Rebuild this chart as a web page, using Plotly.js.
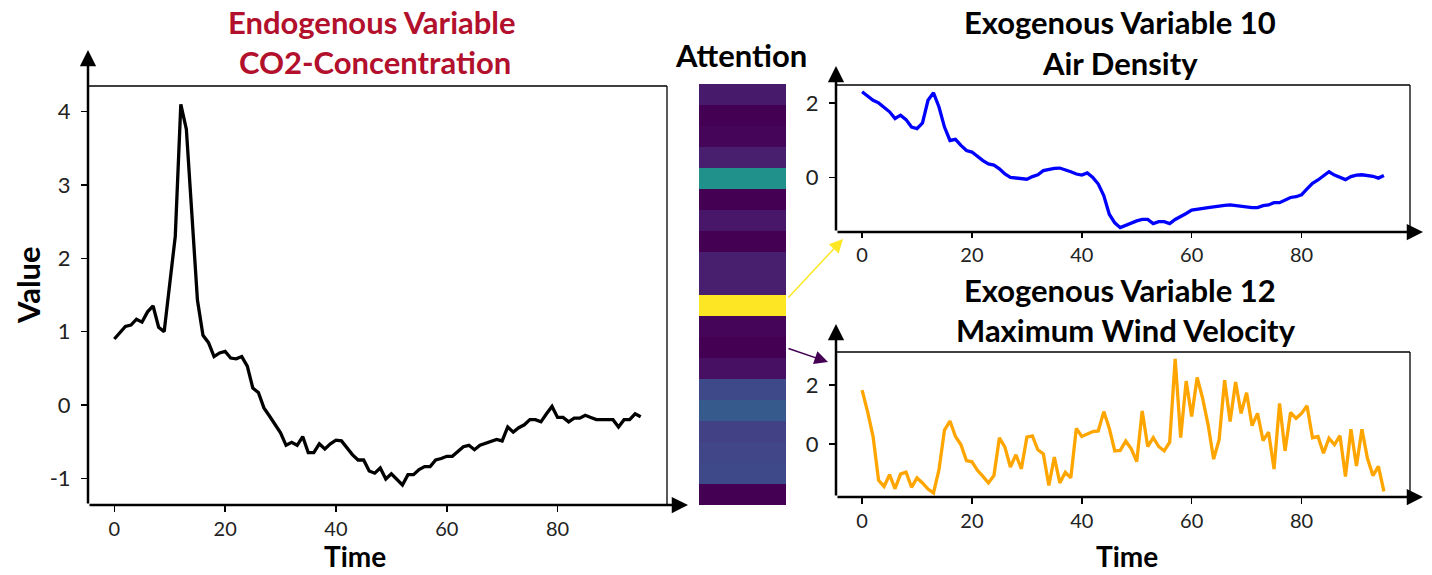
<!DOCTYPE html>
<html>
<head>
<meta charset="utf-8">
<script src="https://cdn.plot.ly/plotly-3.0.1.min.js"></script>
<style>html,body{margin:0;padding:0;background:#fff;}#chart{width:1432px;height:575px;}</style>
</head>
<body>
<div id="chart"></div>
<script>
// ---- data ----
const time = [0,1,2,3,4,5,6,7,8,9,10,11,12,13,14,15,16,17,18,19,20,21,22,23,24,25,26,27,28,29,30,31,32,33,34,35,36,37,38,39,40,41,42,43,44,45,46,47,48,49,50,51,52,53,54,55,56,57,58,59,60,61,62,63,64,65,66,67,68,69,70,71,72,73,74,75,76,77,78,79,80,81,82,83,84,85,86,87,88,89,90,91,92,93,94,95];

const co2Concentration = [0.90,0.98,1.07,1.09,1.17,1.13,1.27,1.35,1.06,1.00,1.65,2.30,4.10,3.76,2.60,1.43,0.95,0.85,0.66,0.71,
  0.73,0.64,0.63,0.66,0.53,0.23,0.17,-0.04,-0.15,-0.27,-0.38,-0.55,-0.51,-0.55,-0.43,-0.65,-0.65,-0.53,-0.60,-0.53,
  -0.48,-0.49,-0.58,-0.68,-0.75,-0.75,-0.90,-0.93,-0.86,-1.01,-0.94,-1.01,-1.09,-0.95,-0.95,-0.88,-0.84,-0.84,-0.75,-0.73,
  -0.70,-0.70,-0.63,-0.57,-0.55,-0.61,-0.55,-0.52,-0.49,-0.47,-0.49,-0.30,-0.37,-0.31,-0.27,-0.20,-0.20,-0.23,-0.12,-0.02,
  -0.17,-0.17,-0.23,-0.18,-0.18,-0.14,-0.17,-0.20,-0.20,-0.20,-0.20,-0.30,-0.20,-0.20,-0.12,-0.16];

const airDensity = [2.30,2.18,2.07,2.00,1.88,1.76,1.58,1.67,1.55,1.35,1.31,1.46,2.07,2.27,1.89,1.35,0.99,1.02,0.86,0.72,
  0.68,0.56,0.45,0.36,0.33,0.23,0.09,0.00,-0.02,-0.05,-0.05,0.02,0.07,0.18,0.22,0.24,0.25,0.21,0.15,0.09,
  0.06,0.12,0.00,-0.18,-0.49,-0.99,-1.22,-1.35,-1.29,-1.22,-1.17,-1.13,-1.13,-1.24,-1.19,-1.19,-1.24,-1.13,-1.06,-0.97,
  -0.88,-0.85,-0.84,-0.81,-0.79,-0.76,-0.75,-0.74,-0.76,-0.79,-0.81,-0.81,-0.81,-0.76,-0.74,-0.68,-0.68,-0.60,-0.54,-0.52,
  -0.47,-0.31,-0.16,-0.07,0.05,0.15,0.06,0.00,-0.06,0.02,0.06,0.07,0.05,0.03,-0.02,0.05];

const maxWindVelocity = [1.83,1.10,0.25,-1.24,-1.45,-1.05,-1.53,-1.03,-0.96,-1.48,-1.16,-1.33,-1.54,-1.67,-0.88,0.47,0.78,0.25,-0.03,-0.57,
  -0.61,-0.90,-1.11,-1.33,-1.08,0.21,-0.11,-0.79,-0.37,-0.85,0.23,0.27,-0.20,-0.34,-1.42,-0.45,-1.33,-0.97,-1.16,0.53,
  0.25,0.33,0.42,0.44,1.10,0.53,-0.24,-0.22,0.10,-0.17,-0.60,1.12,-0.09,0.21,-0.09,-0.24,0.06,2.90,0.21,2.14,
  0.93,2.26,1.55,0.64,-0.52,0.14,2.17,0.76,2.11,1.04,1.74,0.62,1.04,0.11,0.40,-0.86,1.38,-0.24,1.07,0.87,
  1.04,1.30,0.21,0.25,-0.32,0.19,-0.03,0.28,-1.11,0.50,-0.75,0.50,-0.49,-1.08,-0.77,-1.62];

const attention = [0.07,0.00,0.01,0.08,0.50,0.00,0.06,0.00,0.08,0.08,1.00,0.01,0.00,0.04,0.22,0.28,0.19,0.21,0.22,0.00];
const attentionRows = [0,1,2,3,4,5,6,7,8,9,10,11,12,13,14,15,16,17,18,19];

const xTicks = [0,20,40,60,80];
const xTickText = ['0','20','40','60','80'];
const leftYTicks = [-1,0,1,2,3,4];
const leftYTickText = ['-1','0','1','2','3','4'];
const rightYTicks = [0,2];
const rightYTickText = ['0','2'];

const leftTitle = ['Endogenous Variable','CO2-Concentration'];
const topTitle = ['Exogenous Variable 10','Air Density'];
const bottomTitle = ['Exogenous Variable 12','Maximum Wind Velocity'];

// ---- layout helpers (pixel -> paper) ----
const W = 1432, H = 575;
const px = v => v / W;
const py = v => 1 - v / H;

const FONT = 'Lato, "Open Sans", sans-serif';
const xTickFont = {family: FONT, size: 20, color: '#222'};
const yTickFont = {family: FONT, size: 22, color: '#222'};

function xAx(dom, anchor) {
  return {domain: [px(dom[0]), px(dom[1])], anchor: anchor, range: [-4.75, 99.75],
    tickmode: 'array', tickvals: xTicks, ticktext: xTickText, ticks: 'outside', ticklen: 6, tickwidth: 1.5, tickcolor: '#000',
    showgrid: false, zeroline: false, showline: false, tickfont: xTickFont, ticklabelstandoff: 0, fixedrange: true};
}
function yAx(dom, anchor, range, tv, tt) {
  return {domain: [py(dom[1]), py(dom[0])], anchor: anchor, range: range,
    tickmode: 'array', tickvals: tv, ticktext: tt, ticks: 'outside', ticklen: 6, tickwidth: 1.5, tickcolor: '#000',
    showgrid: false, zeroline: false, showline: false, tickfont: yTickFont, ticklabelstandoff: 6, fixedrange: true};
}

const L = {x0: 88, x1: 667, y0: 86, y1: 505};
const RT = {x0: 836, x1: 1410, y0: 85, y1: 231};
const RB = {x0: 836, x1: 1410, y0: 352, y1: 497};
const HM = {x0: 699, x1: 786, y0: 84, y1: 505};

const traces = [
  {x: time, y: co2Concentration, type: 'scatter', mode: 'lines', line: {color: '#000', width: 3.3}, xaxis: 'x', yaxis: 'y', hoverinfo: 'skip'},
  {x: time, y: airDensity, type: 'scatter', mode: 'lines', line: {color: '#0000ff', width: 3.3}, xaxis: 'x2', yaxis: 'y2', hoverinfo: 'skip'},
  {x: time, y: maxWindVelocity, type: 'scatter', mode: 'lines', line: {color: '#ffa500', width: 3.3}, xaxis: 'x3', yaxis: 'y3', hoverinfo: 'skip'},
  {z: attention.map(v => [v]), y: attentionRows, x: [0], type: 'heatmap', colorscale: 'Viridis', zmin: 0, zmax: 1,
    showscale: false, xaxis: 'x4', yaxis: 'y4', xgap: 0, ygap: 0, hoverinfo: 'skip'}
];

function frame(b) {
  return [
    {type: 'line', xref: 'paper', yref: 'paper', x0: px(b.x0), x1: px(b.x1), y0: py(b.y0), y1: py(b.y0), line: {color: '#000', width: 1.3}},
    {type: 'line', xref: 'paper', yref: 'paper', x0: px(b.x1), x1: px(b.x1), y0: py(b.y0), y1: py(b.y1), line: {color: '#000', width: 1.3}}
  ];
}

function arrow(hx, hy, tx, ty, color, w, size) {
  return {xref: 'paper', yref: 'paper', x: px(hx), y: py(hy), ax: tx - hx, ay: ty - hy, axref: 'pixel', ayref: 'pixel',
    text: '', showarrow: true, arrowhead: 2, arrowsize: size, arrowwidth: w, arrowcolor: color, standoff: 0, startstandoff: 0};
}

function label(text, x, y, size, color, angle) {
  return {xref: 'paper', yref: 'paper', x: px(x), y: py(y), xanchor: 'center', yanchor: 'middle', showarrow: false,
    text: '<b>' + text + '</b>', textangle: angle || 0, font: {family: FONT, size: size, color: color}, borderpad: 0};
}

const red = '#b2102c';
const annotations = [
  // axis arrows
  arrow(L.x0, 50, L.x0, L.y1, '#000', 2.5, 1.3),
  arrow(688, L.y1, L.x0, L.y1, '#000', 2.5, 1.3),
  arrow(RT.x0, 66, RT.x0, RT.y1 + 1, '#000', 2.5, 1.3),
  arrow(1423, RT.y1 + 1, RT.x0, RT.y1 + 1, '#000', 2.5, 1.3),
  arrow(RB.x0, 324, RB.x0, RB.y1, '#000', 2.5, 1.3),
  arrow(1423, RB.y1, RB.x0, RB.y1, '#000', 2.5, 1.3),
  // attention links
  arrow(843, 239, 787, 299, '#fde725', 1.5, 1.8),
  arrow(828, 362, 787, 348, '#440154', 1.5, 1.8),
  // titles
  label(leftTitle[0], 372, 22, 31, red),
  label(leftTitle[1], 375, 62, 31, red),
  label('Attention', 741, 55, 31, '#000'),
  label(topTitle[0], 1120, 22, 31, '#000'),
  label(topTitle[1], 1120, 63, 31, '#000'),
  label(bottomTitle[0], 1120, 290, 31, '#000'),
  label(bottomTitle[1], 1126, 330, 31, '#000'),
  label('Value', 28, 285, 31, '#000', -90),
  label('Time', 355, 556, 28, '#000'),
  label('Time', 1127, 556, 28, '#000')
];

const layout = {
  width: W, height: H,
  margin: {l: 0, r: 0, t: 0, b: 0},
  paper_bgcolor: '#fff', plot_bgcolor: 'rgba(0,0,0,0)',
  showlegend: false,
  xaxis: xAx([L.x0, L.x1], 'y'),
  yaxis: yAx([L.y0, L.y1], 'x', [-1.364, 4.35], leftYTicks, leftYTickText),
  xaxis2: xAx([RT.x0, RT.x1], 'y2'),
  yaxis2: yAx([RT.y0, RT.y1], 'x2', [-1.44, 2.48], rightYTicks, rightYTickText),
  xaxis3: xAx([RB.x0, RB.x1], 'y3'),
  yaxis3: yAx([RB.y0, RB.y1], 'x3', [-1.81, 3.13], rightYTicks, rightYTickText),
  xaxis4: {domain: [px(HM.x0), px(HM.x1)], anchor: 'y4', visible: false, range: [-0.5, 0.5], fixedrange: true},
  yaxis4: {domain: [py(HM.y1), py(HM.y0)], anchor: 'x4', visible: false, range: [19.5, -0.5], fixedrange: true},
  shapes: [].concat(frame(L), frame(RT), frame(RB)),
  annotations: annotations
};

Plotly.newPlot('chart', traces, layout, {displayModeBar: false, staticPlot: true});
</script>
</body>
</html>
